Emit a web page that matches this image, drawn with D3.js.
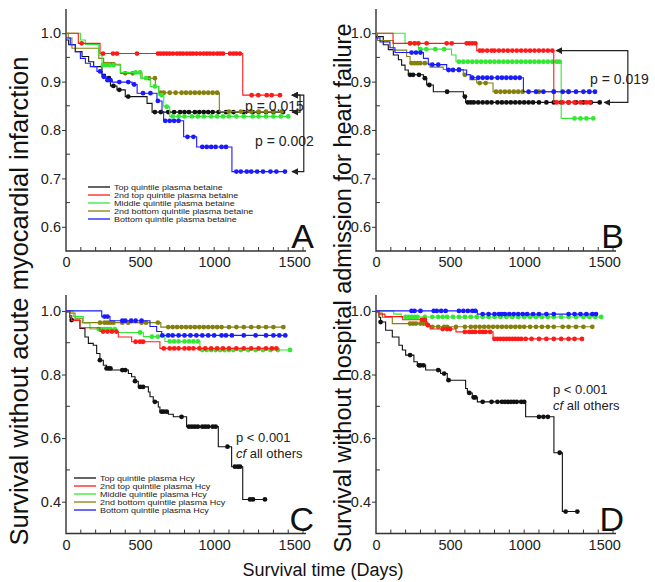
<!DOCTYPE html>
<html>
<head>
<meta charset="utf-8">
<script src="https://cdn.jsdelivr.net/npm/d3@7"></script>
<style>
  body { margin: 0; background: #fff; }
  svg { font-family: "Liberation Sans", Arial, sans-serif; }
</style>
</head>
<body>
<div id="chart"></div>
<script>
// legend labels, in drawing order: top, 2nd top, middle, 2nd bottom, bottom
const betaineGroups = ["Top quintile plasma betaine", "2nd top quintile plasma betaine", "Middle quintile plasma betaine", "2nd bottom quintile plasma betaine", "Bottom quintile plasma betaine"];
const hcyGroups = ["Top quintile plasma Hcy", "2nd top quintile plasma Hcy", "Middle quintile plasma Hcy", "2nd bottom quintile plasma Hcy", "Bottom quintile plasma Hcy"];
const xTickValues = [0, 500, 1000, 1500];
const yTicksUpper = [0.6, 0.7, 0.8, 0.9, 1.0];
const yTicksLower = [0.4, 0.6, 0.8, 1.0];

// step points [day, survival] and censor days, one list per quintile
const stepsA = [
  [[0,0.986],[18,0.976],[63,0.962],[108,0.952],[153,0.941],[187,0.931],[243,0.915],[266,0.907],[300,0.891],[344,0.883],[400,0.869],[547,0.855],[581,0.837]],
  [[0,1.0],[83,0.979],[230,0.958],[1193,0.872]],
  [[0,1.0],[97,0.986],[130,0.977],[221,0.955],[243,0.934],[367,0.919],[502,0.907],[569,0.89],[626,0.872],[660,0.848],[700,0.828]],
  [[0,1.0],[15,0.99],[40,0.969],[221,0.948],[254,0.936],[367,0.917],[513,0.907],[603,0.89],[626,0.877],[1035,0.838]],
  [[0,0.99],[29,0.976],[63,0.962],[97,0.948],[131,0.938],[164,0.931],[209,0.921],[243,0.91],[277,0.903],[311,0.899],[446,0.894],[480,0.876],[614,0.86],[648,0.838],[659,0.819],[794,0.786],[882,0.765],[1120,0.714]]
];
const censA = [
  [290,320,360,420,600,640,690,730,770,800,830,870,900,930,960,990,1030,1080,1130,1200,1260,1300,1350,1400,1465],
  [106,250,317,344,479,621,640,660,680,700,722,749,770,790,815,837,857,880,905,930,951,972,995,1020,1040,1060,1107,1130,1150,1174,1253,1298,1355,1388,1444],
  [250,270,290,320,470,500,540,600,645,680,720,760,800,850,890,930,980,1020,1060,1100,1150,1200,1260,1300,1350,1400,1450,1500],
  [260,280,300,320,400,450,560,600,640,660,700,740,780,810,840,870,900,930,960,990,1020,1100,1180,1250,1300,1350,1400,1456],
  [230,255,280,300,360,420,460,520,570,620,670,700,730,760,820,860,920,950,980,1010,1050,1080,1150,1180,1220,1250,1290,1330,1380,1420,1478]
];

const stepsB = [
  [[0,0.993],[49,0.976],[83,0.966],[117,0.955],[151,0.945],[173,0.934],[196,0.924],[218,0.914],[320,0.907],[342,0.893],[387,0.879],[590,0.869],[605,0.857]],
  [[0,1.0],[115,0.979],[680,0.964],[1200,0.857]],
  [[0,1.0],[196,0.979],[286,0.967],[510,0.955],[540,0.941],[1250,0.824]],
  [[0,1.0],[10,0.985],[117,0.965],[207,0.952],[230,0.938],[365,0.93],[454,0.925],[589,0.914],[634,0.904],[680,0.897],[790,0.879]],
  [[0,0.99],[27,0.982],[94,0.97],[128,0.96],[320,0.948],[353,0.935],[477,0.924],[612,0.914],[640,0.908],[995,0.879]]
];
const censB = [
  [230,250,290,330,360,480,600,620,640,660,690,720,750,780,820,850,880,910,940,970,1000,1030,1060,1100,1150,1200,1250,1300,1350,1400,1450,1510],
  [230,260,286,342,477,511,612,630,650,670,700,720,750,780,800,830,860,890,920,950,980,1010,1040,1070,1100,1130,1160,1190,1220,1260,1300,1340,1380,1420,1444],
  [230,260,300,340,400,460,560,590,620,650,680,710,740,770,800,830,860,890,920,950,980,1010,1040,1070,1100,1130,1160,1190,1220,1240,1340,1380,1420,1467],
  [240,260,280,300,330,560,600,700,740,810,840,870,900,930,960,990,1100,1200,1300,1440],
  [240,270,300,380,420,490,520,560,650,690,720,750,780,820,850,880,910,940,970,1030,1080,1130,1200,1260,1300,1350,1400,1440,1478]
];

const stepsC = [
  [[0,0.997],[25,0.98],[38,0.971],[94,0.945],[128,0.918],[151,0.898],[184,0.892],[207,0.866],[229,0.845],[252,0.829],[274,0.819],[308,0.814],[421,0.803],[443,0.793],[466,0.779],[488,0.761],[556,0.745],[567,0.73],[589,0.714],[623,0.698],[634,0.683],[691,0.675],[724,0.667],[814,0.636],[1028,0.573],[1118,0.51],[1193,0.407]],
  [[0,1.0],[25,0.985],[38,0.97],[94,0.947],[229,0.935],[353,0.918],[443,0.903],[634,0.882]],
  [[0,1.0],[49,0.982],[117,0.961],[162,0.943],[342,0.932],[522,0.919],[668,0.904],[904,0.877]],
  [[0,1.0],[30,0.993],[61,0.977],[110,0.963],[640,0.949]],
  [[0,1.0],[241,0.982],[297,0.969],[567,0.951],[612,0.935],[646,0.923]]
];
const censC = [
  [38,229,274,290,300,380,400,466,500,520,600,645,660,680,780,830,850,870,890,920,940,960,990,1010,1090,1140,1160,1175,1242,1262,1343],
  [250,280,310,340,470,500,520,660,700,730,760,800,830,860,900,940,980,1020,1060,1100,1150,1200,1250,1300,1350,1390,1420],
  [220,240,260,280,300,330,500,580,620,700,730,760,800,830,860,890,920,950,980,1010,1040,1070,1100,1130,1180,1230,1280,1330,1380,1430,1512],
  [230,260,280,300,320,380,420,510,540,620,690,720,750,780,810,840,870,900,930,960,990,1020,1050,1100,1150,1200,1250,1300,1350,1400,1467],
  [260,280,380,400,440,470,510,650,690,720,760,800,840,880,920,960,1000,1050,1080,1120,1200,1280,1350,1400,1440,1480]
];

const stepsD = [
  [[0,0.997],[20,0.98],[31,0.965],[65,0.939],[110,0.918],[155,0.892],[178,0.877],[200,0.861],[256,0.84],[279,0.829],[335,0.814],[436,0.803],[481,0.782],[605,0.756],[617,0.742],[650,0.728],[684,0.714],[1010,0.667],[1201,0.554],[1258,0.369]],
  [[0,1.0],[20,0.99],[60,0.982],[180,0.972],[340,0.955],[365,0.943],[540,0.934],[790,0.912]],
  [[0,1.0],[120,0.99],[170,0.981]],
  [[0,1.0],[20,0.993],[43,0.98],[110,0.96],[358,0.95]],
  [[0,1.0],[684,0.99]]
];
const censD = [
  [31,230,290,300,320,420,460,490,630,660,670,720,780,820,850,870,890,910,930,950,980,1000,1100,1130,1160,1240,1280,1359],
  [310,330,350,450,480,500,600,630,650,670,700,720,740,770,800,820,840,860,880,900,920,940,960,980,1010,1050,1100,1150,1200,1250,1300,1340,1390],
  [200,220,240,260,280,330,380,420,450,480,520,560,600,640,680,720,760,800,840,880,920,960,1000,1040,1080,1120,1160,1200,1250,1300,1350,1400,1440,1480,1520],
  [230,250,270,300,320,340,380,420,460,480,540,600,640,670,700,730,760,790,820,850,880,910,940,970,1000,1040,1080,1120,1160,1200,1260,1300,1350,1400,1460],
  [240,260,300,390,410,440,470,560,590,620,650,670,720,760,800,830,850,870,900,930,960,990,1020,1060,1100,1150,1200,1300,1340,1380,1420,1460,1485]
];

const colors = ["#111111", "#ff1a1a", "#33e833", "#857f0c", "#1a1aff"];
const drawOrder = [0, 3, 2, 1, 4];

const width = 655, height = 582;
const svg = d3.select("#chart").append("svg")
  .attr("width", width).attr("height", height);

const panels = [
  {letter: "A", steps: stepsA, cens: censA, xr: [66, 306], yr: [251, 9], yd: [0.55, 1.05], yTicks: yTicksUpper, minorStep: 0.05, legend: betaineGroups, legendPos: [88, 187]},
  {letter: "B", steps: stepsB, cens: censB, xr: [376, 616], yr: [251, 9], yd: [0.55, 1.05], yTicks: yTicksUpper, minorStep: 0.05},
  {letter: "C", steps: stepsC, cens: censC, xr: [66, 306], yr: [533.5, 295], yd: [0.3, 1.05], yTicks: yTicksLower, minorStep: 0.1, legend: hcyGroups, legendPos: [74, 478]},
  {letter: "D", steps: stepsD, cens: censD, xr: [376, 616], yr: [533.5, 295], yd: [0.3, 1.05], yTicks: yTicksLower, minorStep: 0.1}
];

function survivalAt(steps, t) {
  let v = steps[0][1];
  steps.forEach(s => { if (s[0] <= t) v = s[1]; });
  return v;
}

panels.forEach(p => {
  const x = d3.scaleLinear().domain([0, 1620]).range(p.xr);
  const y = d3.scaleLinear().domain(p.yd).range(p.yr);
  p.x = x; p.y = y;
  const g = svg.append("g");

  // x axis: minor ticks every 100 days pointing up
  const xAxis = d3.axisBottom(x).tickValues(xTickValues).tickSize(0).tickPadding(6).tickFormat(d3.format("d"));
  const gx = g.append("g").attr("transform", `translate(0,${p.yr[0]})`).call(xAxis);
  gx.select(".domain").remove();
  gx.selectAll("text").attr("font-size", 14.5).attr("fill", "#222").attr("font-family", "Liberation Sans, Arial, sans-serif")
    .attr("dx", d => d === 1500 ? 6 : 0);
  g.append("g").selectAll("line").data(d3.range(100, 1601, 100)).join("line")
    .attr("x1", d => x(d)).attr("x2", d => x(d))
    .attr("y1", p.yr[0]).attr("y2", p.yr[0] - 4)
    .attr("stroke", "#333").attr("stroke-width", 1);

  // y axis: labelled ticks outside, minor ticks inside
  const yAxis = d3.axisLeft(y).tickValues(p.yTicks).tickSize(4).tickPadding(1).tickFormat(d3.format(".1f"));
  const gy = g.append("g").attr("transform", `translate(${p.xr[0]},0)`).call(yAxis);
  gy.select(".domain").remove();
  gy.selectAll("line").attr("stroke", "#333");
  gy.selectAll("text").attr("font-size", 14.5).attr("fill", "#222").attr("font-family", "Liberation Sans, Arial, sans-serif");
  const minors = d3.range(p.yd[0] + p.minorStep, p.yd[1] - 0.001, p.minorStep)
    .filter(v => !p.yTicks.some(t => Math.abs(t - v) < 0.001));
  g.append("g").selectAll("line").data(minors).join("line")
    .attr("x1", p.xr[0]).attr("x2", p.xr[0] + 4)
    .attr("y1", d => y(d)).attr("y2", d => y(d))
    .attr("stroke", "#333");

  // axis lines
  g.append("path")
    .attr("d", `M${p.xr[0]},${p.yr[1]}V${p.yr[0]}H${p.xr[1]}`)
    .attr("fill", "none").attr("stroke", "#333").attr("stroke-width", 1.4);

  // curves
  const line = d3.line().x(d => x(d[0])).y(d => y(d[1])).curve(d3.curveStepAfter);
  drawOrder.forEach(i => {
    const steps = p.steps[i];
    const cens = p.cens[i];
    const end = Math.max(d3.max(cens), steps[steps.length - 1][0]);
    const pts = steps.concat([[end, steps[steps.length - 1][1]]]);
    g.append("path").attr("d", line(pts))
      .attr("fill", "none").attr("stroke", colors[i]).attr("stroke-width", 1.1);
    g.append("g").selectAll("circle").data(cens).join("circle")
      .attr("cx", d => x(d)).attr("cy", d => y(survivalAt(steps, d)))
      .attr("r", 2.4).attr("fill", colors[i]);
  });

  // panel letter
  g.append("text").attr("x", p.xr[1] + 8).attr("y", p.yr[0] - 3)
    .attr("text-anchor", "end").attr("font-size", 34).attr("fill", "#111").text(p.letter);

  // legend
  if (p.legend) {
    const lg = g.append("g").attr("transform", `translate(${p.legendPos[0]},${p.legendPos[1]})`);
    p.legend.forEach((name, i) => {
      lg.append("line").attr("x1", 0).attr("x2", 22).attr("y1", i * 8).attr("y2", i * 8)
        .attr("stroke", colors[i]).attr("stroke-width", 1.3);
      lg.append("text").attr("transform", `translate(26,${i * 8 + 2.8}) scale(1.2,1)`)
        .attr("font-size", 7.5).attr("fill", "#222").text(name);
    });
  }
});

// p-value annotations with arrow brackets
const defs = svg.append("defs");
defs.append("marker").attr("id", "arr").attr("viewBox", "0 0 10 10").attr("refX", 9).attr("refY", 5)
  .attr("markerWidth", 7).attr("markerHeight", 7).attr("markerUnits", "userSpaceOnUse")
  .attr("orient", "auto-start-reverse")
  .append("path").attr("d", "M0,0L10,5L0,10Z").attr("fill", "#222");

function bracket(p, tipTop, tipBottom, xb, vTop, vBottom) {
  const path = `M${p.x(tipTop)},${p.y(vTop)}H${p.x(xb)}V${p.y(vBottom)}H${p.x(tipBottom)}`;
  svg.append("path").attr("d", path).attr("fill", "none").attr("stroke", "#222").attr("stroke-width", 1.2)
    .attr("marker-start", "url(#arr)").attr("marker-end", "url(#arr)");
}
const pA = panels[0], pB = panels[1];
bracket(pA, 1525, 1525, 1580, 0.872, 0.837);
bracket(pA, 1525, 1525, 1605, 0.872, 0.714);
bracket(pB, 1215, 1540, 1700, 0.964, 0.857);

svg.append("text").attr("x", 245).attr("y", 111).attr("font-size", 14).attr("fill", "#222").text("p = 0.015");
svg.append("text").attr("x", 255).attr("y", 146).attr("font-size", 14).attr("fill", "#222").text("p = 0.002");
svg.append("text").attr("x", 590).attr("y", 84).attr("font-size", 14).attr("fill", "#222").text("p = 0.019");

[[236, 442], [553, 394]].forEach(([tx, ty]) => {
  svg.append("text").attr("x", tx).attr("y", ty).attr("font-size", 13).attr("fill", "#222").text("p < 0.001");
  const t = svg.append("text").attr("x", tx).attr("y", ty + 15.5).attr("font-size", 13).attr("fill", "#222");
  t.append("tspan").attr("font-style", "italic").text("cf");
  t.append("tspan").text(" all others");
});

// axis titles
svg.append("text").attr("transform", "translate(28,301) rotate(-90)")
  .attr("text-anchor", "middle").attr("font-size", 25.5).attr("fill", "#111")
  .text("Survival without acute myocardial infarction");
svg.append("text").attr("transform", "translate(351,288) rotate(-90)")
  .attr("text-anchor", "middle").attr("font-size", 23.5).attr("fill", "#111")
  .text("Survival without hospital admission for heart failure");
svg.append("text").attr("x", 323).attr("y", 576)
  .attr("text-anchor", "middle").attr("font-size", 18).attr("fill", "#111")
  .text("Survival time (Days)");
</script>
</body>
</html>
